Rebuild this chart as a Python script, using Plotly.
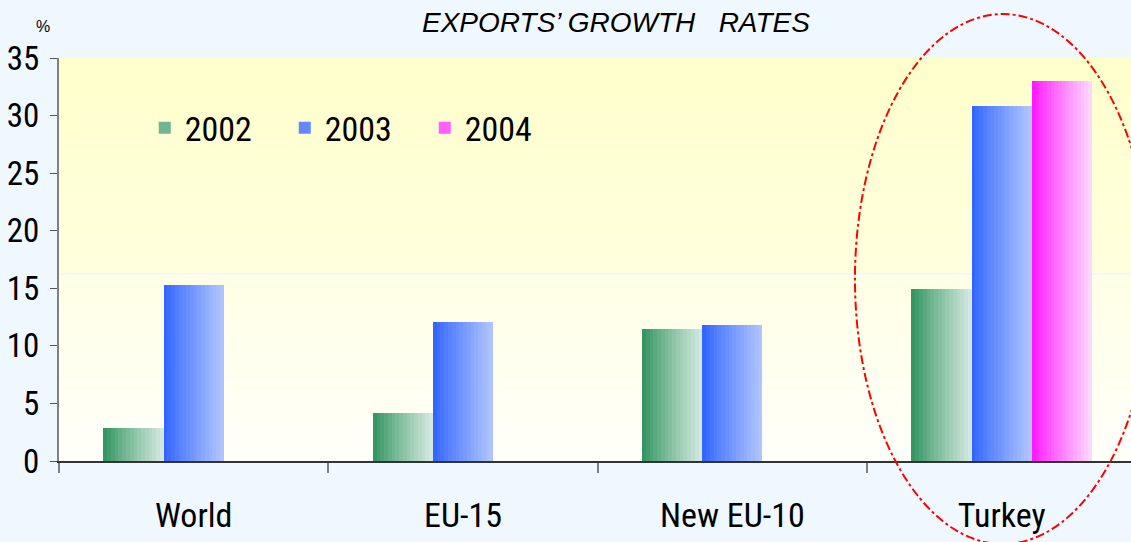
import plotly.graph_objects as go

categories = ["World", "EU-15", "New EU-10", "Turkey"]
years = ["2002", "2003", "2004"]
growth_2002 = [2.9, 4.2, 11.5, 14.9]
growth_2003 = [15.3, 12.1, 11.8, 30.8]
growth_2004 = [None, None, None, 33.0]
y_ticks = [0, 5, 10, 15, 20, 25, 30, 35]

series = [
    (years[0], growth_2002, (52, 150, 98), (210, 232, 222)),
    (years[1], growth_2003, (51, 102, 255), (175, 196, 255)),
    (years[2], growth_2004, (255, 26, 255), (255, 214, 255)),
]

NARROW = "Liberation Sans Narrow, Arial Narrow, Roboto Condensed, sans-serif"


def mix(c0, c1, t):
    return "rgb(%d,%d,%d)" % tuple(round(a + (b - a) * t) for a, b in zip(c0, c1))


N = 16
group_w = 0.67
bar_w = group_w / 3

fig = go.Figure()
for s, (name, vals, c0, c1) in enumerate(series):
    for k in range(N):
        t = (k / (N - 1)) ** 0.9
        w = bar_w / N
        fig.add_trace(go.Bar(
            x=categories, y=vals,
            width=w * (1.4 if k < N - 1 else 1.0),
            offset=-group_w / 2 + s * bar_w + k * w,
            marker=dict(color=mix(c0, c1, t), line=dict(width=0)),
            name=name, legendgroup=name,
            showlegend=(k == N // 3),
            hoverinfo="skip",
        ))

shapes = []
# plot-area background bands (styling)
NB = 30
split = 16.25
for i in range(NB):
    y0 = split + (35 - split) * i / NB
    y1 = split + (35 - split) * (i + 1) / NB
    shapes.append(dict(type="rect", xref="paper", yref="y", x0=0, x1=1, y0=y0, y1=y1 + 0.05,
                       fillcolor=mix((255, 255, 222), (255, 255, 204), i / (NB - 1)),
                       line=dict(width=0), layer="below"))
    y0 = split * i / NB
    y1 = split * (i + 1) / NB
    shapes.append(dict(type="rect", xref="paper", yref="y", x0=0, x1=1, y0=y0, y1=y1 + 0.05,
                       fillcolor=mix((255, 255, 250), (255, 255, 230), i / (NB - 1)),
                       line=dict(width=0), layer="below"))
shapes.append(dict(type="line", xref="paper", yref="y", x0=0, x1=1, y0=split, y1=split,
                   line=dict(color="rgba(245,248,250,1)", width=2), layer="below"))
# highlight ellipse around Turkey
shapes.append(dict(type="circle", xref="paper", yref="paper",
                   x0=0.7425, x1=1.0187, y0=-0.206, y1=1.109,
                   line=dict(color="#FF0000", width=2, dash="dashdot")))

fig.update_layout(
    width=1131, height=542,
    margin=dict(l=59, r=0, t=58, b=81),
    paper_bgcolor="#F0F8FF",
    plot_bgcolor="#FFFFE8",
    barmode="overlay",
    bargap=0,
    shapes=shapes,
    showlegend=True,
    legend=dict(orientation="h", x=0.08, y=0.826, xanchor="left", yanchor="middle",
                bgcolor="rgba(0,0,0,0)", font=dict(family=NARROW, size=34, color="#000"),
                entrywidth=95, itemsizing="constant", traceorder="normal"),
    xaxis=dict(range=[-0.5, 3.48], showline=True, linecolor="#333333", linewidth=2,
               ticks="outside", tickson="boundaries", ticklen=10, tickwidth=2, tickcolor="#808080",
               tickfont=dict(family=NARROW, size=34, color="#000"),
               ticklabelstandoff=23, showgrid=False),
    yaxis=dict(range=[0, 35], tickvals=y_ticks, showline=True, linecolor="#808080", linewidth=2,
               ticks="outside", ticklen=7, tickwidth=1, tickcolor="#555555",
               tickfont=dict(family=NARROW, size=33, color="#000"),
               showgrid=False, zeroline=False, ticklabelstandoff=4),
    annotations=[
        dict(text="EXPORTS\u2019 GROWTH\u00a0\u00a0 RATES", xref="paper", yref="paper",
             x=0.52, y=1.089, showarrow=False, xanchor="center", yanchor="middle",
             font=dict(family="Liberation Sans, Arial, sans-serif", size=28, style="italic", color="#000")),
        dict(text="%", xref="paper", yref="paper", x=-0.015, y=1.077, showarrow=False,
             xanchor="center", yanchor="middle",
             font=dict(family="Liberation Sans, Arial, sans-serif", size=16, color="#000")),
    ],
)

fig.write_html("out.html", config={"displayModeBar": False},
               post_script="document.body.style.margin='0';")
